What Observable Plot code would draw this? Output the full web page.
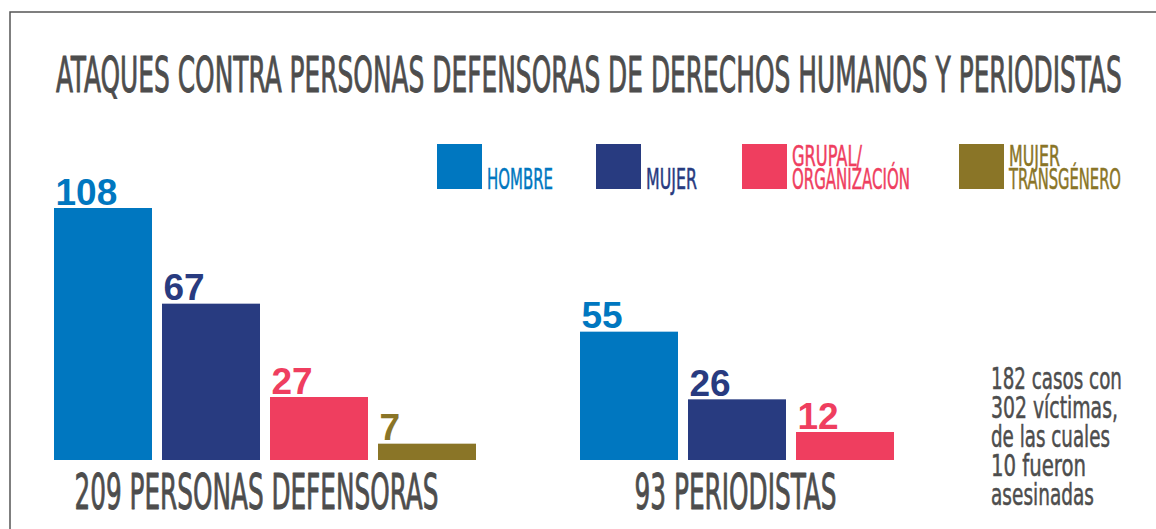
<!DOCTYPE html>
<html><head><meta charset="utf-8">
<script src="https://cdn.jsdelivr.net/npm/d3@7"></script>
<script src="https://cdn.jsdelivr.net/npm/@observablehq/plot@0.6"></script>
<style>
html,body{margin:0;padding:0;background:#fff;}
#wrap{position:relative;width:1156px;height:529px;overflow:hidden;background:#fff;}
#wrap > svg{position:absolute;}
</style></head><body><div id="wrap"></div>
<script>
// ---- data ----
const title = "ATAQUES CONTRA PERSONAS DEFENSORAS DE DERECHOS HUMANOS Y PERIODISTAS";
const categories = ["HOMBRE", "MUJER", "GRUPAL/ORGANIZACIÓN", "MUJER TRANSGÉNERO"];
const legendLines = [["HOMBRE"], ["MUJER"], ["GRUPAL/", "ORGANIZACIÓN"], ["MUJER", "TRANSGÉNERO"]];
const colors = ["#0077C0", "#283B80", "#EF3E5F", "#8A7527"];
const groupNames = ["PERSONAS DEFENSORAS", "PERIODISTAS"];
const defensoras = [108, 67, 27, 7];
const periodistas = [55, 26, 12];
const noteLines = ["182 casos con", "302 víctimas,", "de las cuales", "10 fueron", "asesinadas"];

// ---- style ----
const condensed = "'Liberation Sans Narrow', 'DejaVu Sans Condensed', Roboto, sans-serif";
const gray = "#4D4D4D";
const wrap = document.getElementById("wrap");

// squeeze a text horizontally to a target width (keeps it real text)
function squeeze(t, x, y, target) {
  t.removeAttribute("x"); t.removeAttribute("y");
  const w = t.getComputedTextLength();
  const k = target / w;
  t.setAttribute("transform", `translate(${x},${y}) scale(${k},1)`);
}

function groupChart(values, label, o) {
  const data = values.map((v, i) => ({category: categories[i], value: v}));
  const total = d3.sum(values);
  const text = `${total} ${label}`;
  const svg = Plot.plot({
    width: o.width, height: 369,
    marginTop: 48, marginBottom: 69, marginLeft: o.ml, marginRight: o.mr,
    x: {domain: data.map(d => d.category), paddingInner: 0.095, paddingOuter: 0, axis: null},
    y: {domain: [0, d3.max(defensoras)], axis: null},
    color: {domain: categories, range: colors},
    style: {background: "transparent", overflow: "visible"},
    marks: [
      Plot.barY(data, {x: "category", y: "value", fill: "category"}),
      Plot.text(data, {x: "category", y: "value", text: d => String(d.value), fill: "category",
        textAnchor: "start", lineAnchor: "bottom", dx: -48, dy: -4,
        fontSize: 37, fontWeight: 700, fontFamily: "'Liberation Sans', Arial, sans-serif"}),
      Plot.text([text], {frameAnchor: "bottom-left", textAnchor: "start", lineAnchor: "bottom",
        fontSize: 49, fill: gray, stroke: gray, strokeWidth: 0.9, fontFamily: condensed})
    ]
  });
  svg.style.left = o.left + "px";
  svg.style.top = "160px";
  wrap.appendChild(svg);
  svg.querySelectorAll("text").forEach(t => {
    if (t.textContent === text) {
      t.setAttribute("text-anchor", "start");
      squeeze(t, o.lx - o.left, 348, o.lw);
    }
  });
}

groupChart(defensoras, groupNames[0], {left: 0, width: 530, ml: 53, mr: 54, lx: 74, lw: 364});
groupChart(periodistas, groupNames[1], {left: 530, width: 420, ml: 49, mr: 56, lx: 634, lw: 202});

// ---- overlay: frame, title, legend, note ----
const ov = d3.select(wrap).append("svg")
  .attr("width", 1156).attr("height", 529)
  .style("left", "0px").style("top", "0px").style("pointer-events", "none");

ov.append("rect").attr("x", 10).attr("y", 12).attr("width", 1300).attr("height", 700)
  .attr("fill", "none").attr("stroke", "#555").attr("stroke-width", 1.5);

function addText(str, x, y, size, fill, target, sw) {
  const t = ov.append("text")
    .attr("font-family", condensed).attr("font-size", size)
    .attr("fill", fill).attr("stroke", fill).attr("stroke-width", sw)
    .text(str).node();
  squeeze(t, x, y, target);
}

addText(title, 56, 92, 49, gray, 1066, 0.9);

const legendX = [437, 596, 742, 959];
const legendW = [[66], [51], [70, 118], [51, 112]];
legendLines.forEach((lines, i) => {
  ov.append("rect").attr("x", legendX[i]).attr("y", 144).attr("width", 45).attr("height", 45).attr("fill", colors[i]);
  lines.forEach((ln, j) => {
    addText(ln, legendX[i] + 50, 189 - 23 * (lines.length - 1 - j), 28, colors[i], legendW[i][j], 0.5);
  });
});

const noteW = [131, 127, 119, 95, 103];
noteLines.forEach((ln, j) => addText(ln, 991, 389 + 29 * j, 30, gray, noteW[j], 0.5));
</script></body></html>
